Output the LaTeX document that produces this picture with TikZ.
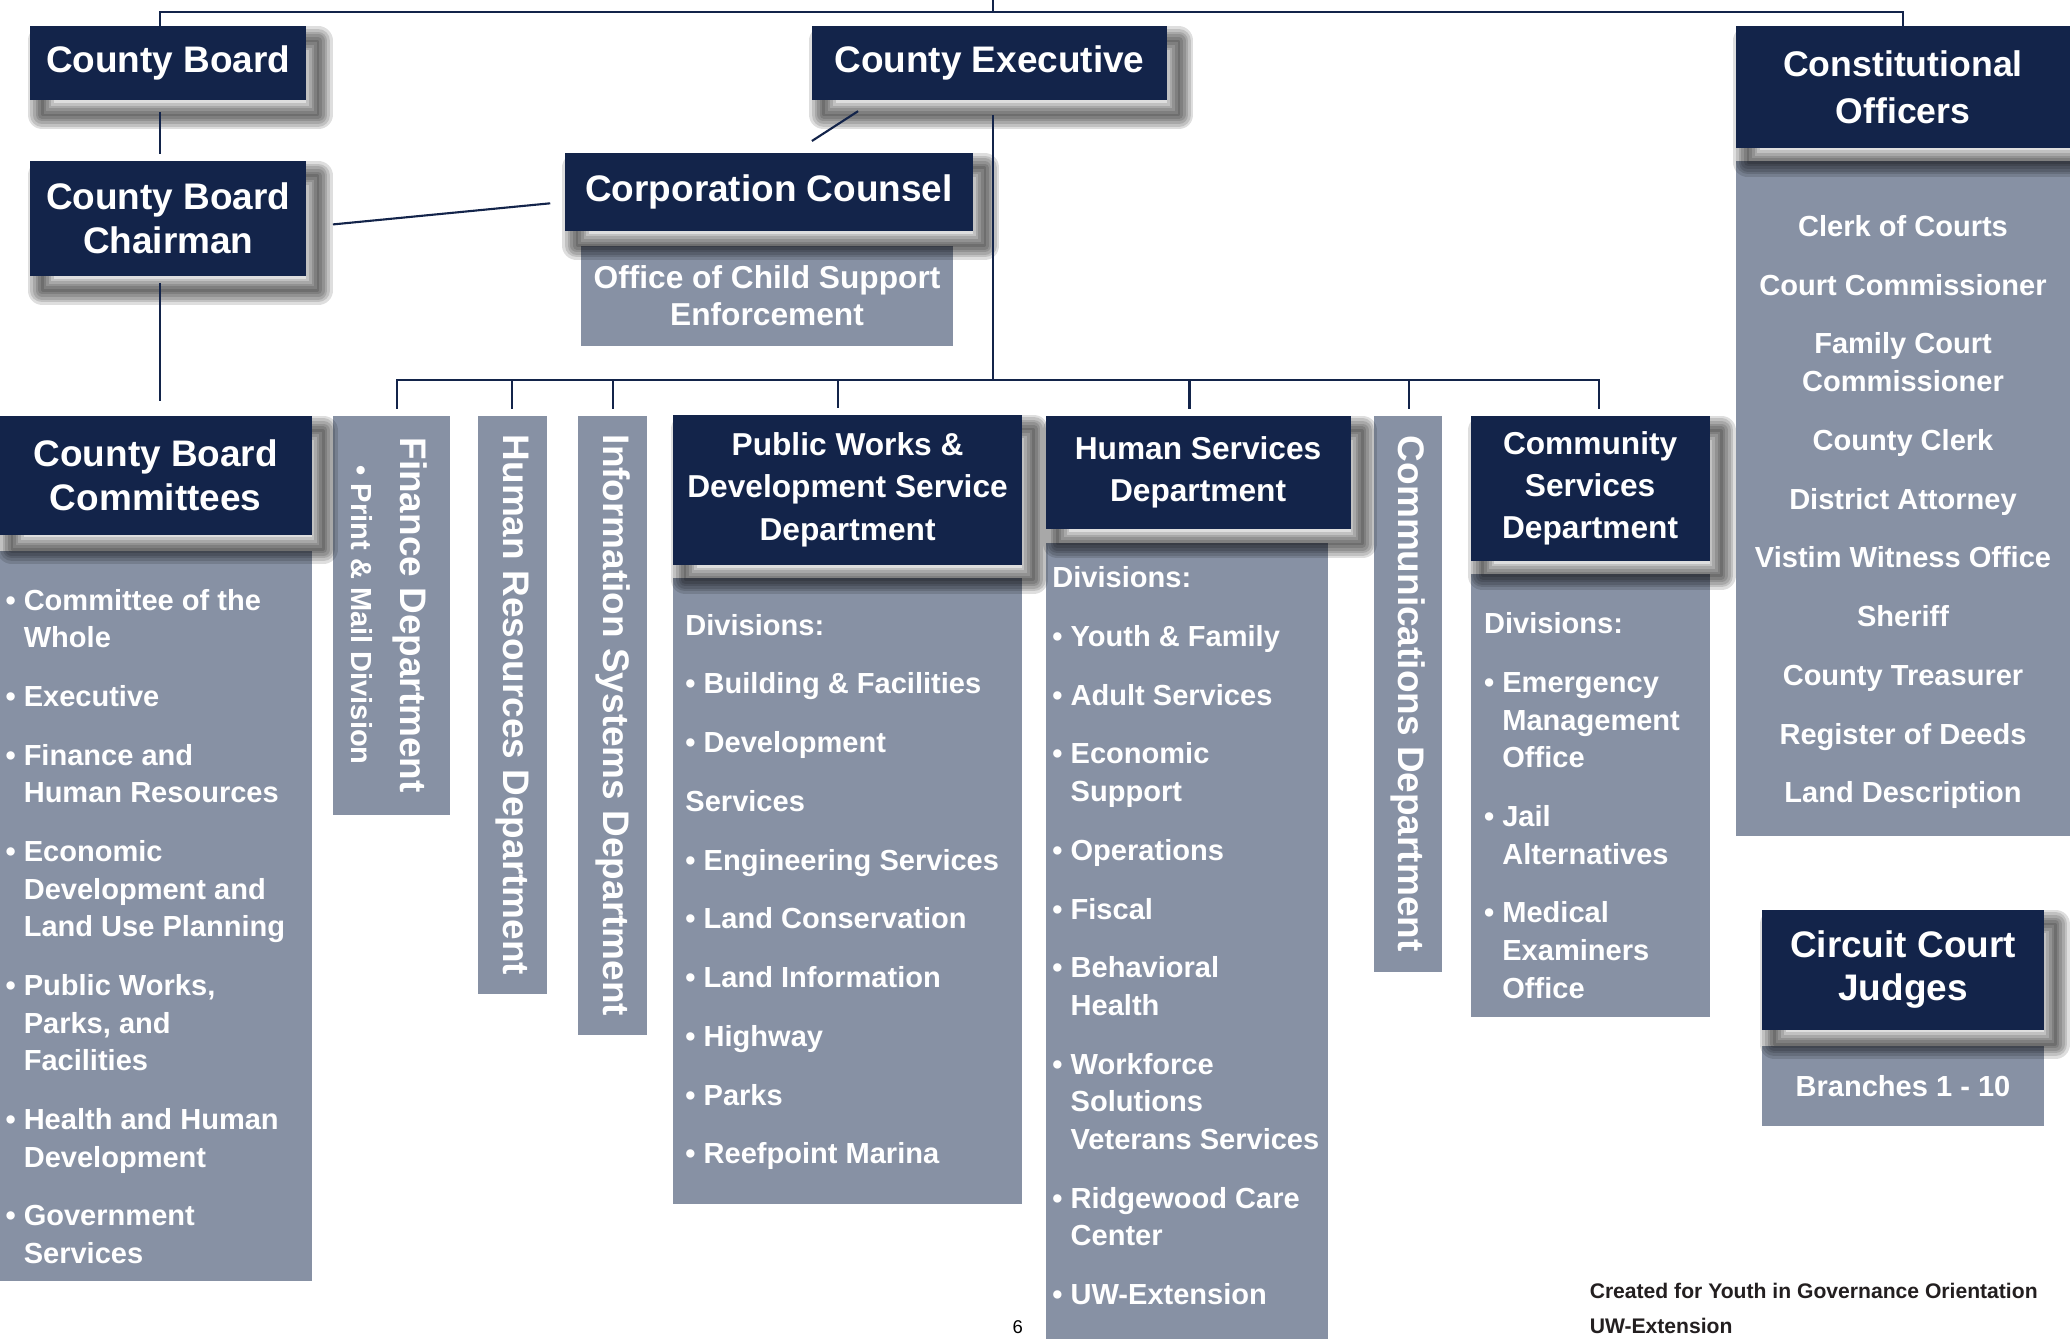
\documentclass[tikz,border=0pt]{standalone}
\usepackage{fontspec}
\setmainfont{Liberation Sans}
\definecolor{boardnavy}{RGB}{19,36,74}
\definecolor{deptslate}{RGB}{135,145,164}
\definecolor{footink}{RGB}{35,31,32}
\newcommand{\bulletgap}{\hphantom{• }}
\tikzset{
	shadowlayer/.style={preaction={draw=black, line join=round, opacity=0.13, line width=#1,
		transform canvas={xshift=9pt, yshift=-11pt}}},
	softshadow/.style={shadowlayer=22pt, shadowlayer=18pt, shadowlayer=14pt,
		shadowlayer=10pt, shadowlayer=6pt, shadowlayer=2pt},
	darkbox/.style={fill=boardnavy, text=white, align=center, inner sep=0pt,
		font=\bfseries\fontsize{28}{33}\selectfont, softshadow},
	lightbox/.style={fill=deptslate, inner sep=0pt},
	listtext/.style={text=white, align=left, inner sep=0pt, anchor=north west,
		font=\bfseries\fontsize{22}{28.5}\selectfont},
	vlabel/.style={text=white, align=center, inner sep=0pt, rotate=-90,
		font=\bfseries\fontsize{28}{33}\selectfont},
	link/.style={draw=boardnavy, line width=1.6pt}
}

\begin{document}
\begin{tikzpicture}[x=1pt, y=-1pt]
		%%%%% START %%%%%
		
		\fill[white] (0,0) rectangle (1568,1014);
		\useasboundingbox (0,0) rectangle (1568,1014);
		
		% light boxes first, so the shadows of the dark ones fall on them
		\node[lightbox, minimum width=236, minimum height=553] (cbcomlist) at (118,693.5) {};
		\node[lightbox, text=white, align=center, font=\bfseries\fontsize{24}{28}\selectfont, minimum width=282, minimum height=76] (ocs) at (581,224) {Office of Child Support\\Enforcement};
		\node[lightbox, minimum width=89, minimum height=302] (fin) at (296.5,466) {};
		\node[lightbox, minimum width=52, minimum height=438] (hr) at (388,534) {};
		\node[lightbox, minimum width=52, minimum height=469] (is) at (464,549.5) {};
		\node[lightbox, minimum width=264, minimum height=474] (pwlist) at (642,675) {};
		\node[lightbox, minimum width=214, minimum height=619] (hslist) at (899,720.5) {};
		\node[lightbox, minimum width=51, minimum height=421] (comm) at (1066.5,525.5) {};
		\node[lightbox, minimum width=181, minimum height=335] (cslist) at (1204.5,602.5) {};
		\node[lightbox, minimum width=253, minimum height=511] (colist) at (1441.5,377.5) {};
		\node[lightbox, text=white, font=\bfseries\fontsize{22}{26}\selectfont, minimum width=213, minimum height=61] (ccjlist) at (1441.5,822.5) {Branches 1 - 10};
		
		% dark boxes
		\node[darkbox, minimum width=209, minimum height=56] (cb) at (127.5,48) {County Board};
		\node[darkbox, minimum width=209, minimum height=87] (cbc) at (127.5,165.5) {County Board\\Chairman};
		\node[darkbox, font=\bfseries\fontsize{28}{34}\selectfont, minimum width=236, minimum height=90] (cbcom) at (118,360) {County Board\\Committees};
		\node[darkbox, minimum width=269, minimum height=56] (ce) at (749.5,48) {County Executive};
		\node[darkbox, minimum width=309, minimum height=59] (cc) at (582.5,145.5) {Corporation Counsel};
		\node[darkbox, font=\bfseries\fontsize{24}{32}\selectfont, minimum width=264, minimum height=114] (pw) at (642,371) {Public Works \&\\Development Service\\Department};
		\node[darkbox, font=\bfseries\fontsize{24}{32}\selectfont, minimum width=231, minimum height=86] (hs) at (907.5,358) {Human Services\\Department};
		\node[darkbox, font=\bfseries\fontsize{24}{32}\selectfont, minimum width=181, minimum height=110] (cs) at (1204.5,370) {Community\\Services\\Department};
		\node[darkbox, font=\bfseries\fontsize{27}{36}\selectfont, minimum width=253, minimum height=92] (co) at (1441.5,66) {Constitutional\\Officers};
		\node[darkbox, minimum width=213, minimum height=91] (ccj) at (1441.5,734.5) {Circuit Court\\Judges};
		
		% connectors
		\coordinate (pagetop) at (752,0);
		\coordinate (topbus) at (752,9);
		\coordinate (lspine) at (121,9);
		\coordinate (bus) at (752,288);
		
		\draw[link] (pagetop) -- (topbus);
		\draw[link] (cb.north -| lspine) |- (topbus);
		\draw[link] (co.north) |- (topbus);
		\draw[link] ([yshift=-9pt]cb.south -| lspine) -- ([yshift=5pt]cbc.north -| lspine);
		\draw[link] ([yshift=-5pt]cbc.south -| lspine) -- ([yshift=11pt]cbcom.north -| lspine);
		\draw[link] ([xshift=20pt,yshift=-4.5pt]cbc.east) -- ([xshift=-11pt,yshift=-8.5pt]cc.west);
		\draw[link] ([xshift=-99.5pt,yshift=-8pt]ce.south) -- ([xshift=32.5pt,yshift=9pt]cc.north);
		\draw[link] ([yshift=-11pt]ce.south -| bus) -- (bus);
		\foreach \dept/\dx in {fin/4.5, hr/0, is/0, pw/-7, hs/-6.5, comm/0.5, cs/6.5}
			\draw[link] ([xshift=\dx pt, yshift=5pt]\dept.north) |- (bus);
		
		% vertical department names
		\node[vlabel] (finlabel) at (295,466) {Finance Department\\[4pt]{\fontsize{22}{26}\selectfont • Print \& Mail Division}};
		\node[vlabel] (hrlabel) at (hr.center) {Human Resources Department};
		\node[vlabel] (islabel) at (is.center) {Information Systems Department};
		\node[vlabel] (commlabel) at (comm.center) {Communications Department};
		
		% lists
		\node[listtext] (cbcomlines) at (4,446) {• Committee of the\\
			\bulletgap Whole\\[16pt]
			• Executive\\[16pt]
			• Finance and\\
			\bulletgap Human Resources\\[16pt]
			• Economic\\
			\bulletgap Development and\\
			\bulletgap Land Use Planning\\[16pt]
			• Public Works,\\
			\bulletgap Parks, and\\
			\bulletgap Facilities\\[16pt]
			• Health and Human\\
			\bulletgap Development\\[16pt]
			• Government\\
			\bulletgap Services};
		
		\node[listtext] (pwlines) at (519,465) {Divisions:\\[16pt]
			• Building \& Facilities\\[16pt]
			• Development\\[16pt]
			Services\\[16pt]
			• Engineering Services\\[16pt]
			• Land Conservation\\[16pt]
			• Land Information\\[16pt]
			• Highway\\[16pt]
			• Parks\\[16pt]
			• Reefpoint Marina};
		
		\node[listtext] (hslines) at (797,429) {Divisions:\\[16pt]
			• Youth \& Family\\[16pt]
			• Adult Services\\[16pt]
			• Economic\\
			\bulletgap Support\\[16pt]
			• Operations\\[16pt]
			• Fiscal\\[16pt]
			• Behavioral\\
			\bulletgap Health\\[16pt]
			• Workforce\\
			\bulletgap Solutions\\
			\bulletgap Veterans Services\\[16pt]
			• Ridgewood Care\\
			\bulletgap Center\\[16pt]
			• UW-Extension};
		
		\node[listtext] (cslines) at (1124,464) {Divisions:\\[16pt]
			• Emergency\\
			\bulletgap Management\\
			\bulletgap Office\\[16pt]
			• Jail\\
			\bulletgap Alternatives\\[16pt]
			• Medical\\
			\bulletgap Examiners\\
			\bulletgap Office};
		
		\node[listtext, anchor=north, align=center] (colines) at (1441.5,163) {Clerk of Courts\\[16pt]
			Court Commissioner\\[16pt]
			Family Court\\
			Commissioner\\[16pt]
			County Clerk\\[16pt]
			District Attorney\\[16pt]
			Vistim Witness Office\\[16pt]
			Sheriff\\[16pt]
			County Treasurer\\[16pt]
			Register of Deeds\\[16pt]
			Land Description};
		
		% footer
		\node[anchor=north west, inner sep=0pt, align=left, text=footink, font=\bfseries\fontsize{16}{26}\selectfont] (credit) at (1204,972) {Created for Youth in Governance Orientation\\UW-Extension};
		\node[text=black, font=\fontsize{14}{14}\selectfont] (pageno) at (771,1005) {6};
		
		%%%%% END %%%%%
\end{tikzpicture}
\end{document}
